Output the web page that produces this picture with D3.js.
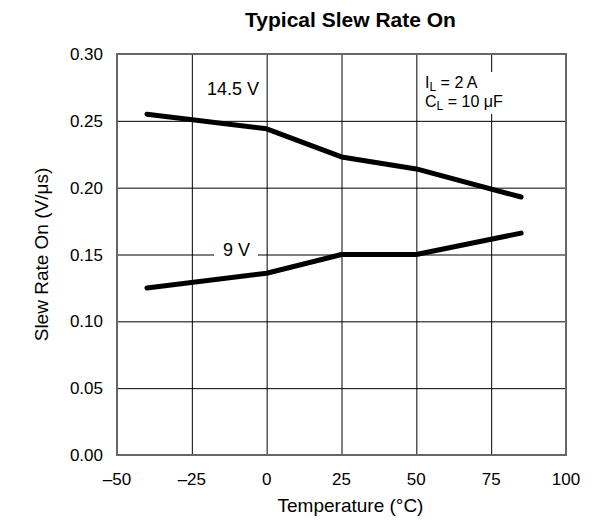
<!DOCTYPE html>
<html>
<head>
<meta charset="utf-8">
<script src="https://cdn.jsdelivr.net/npm/d3@7"></script>
<style>
body { margin: 0; background: #fff; }
text { font-family: "Liberation Sans", Arial, sans-serif; fill: #000; }
</style>
</head>
<body>
<svg id="chart" width="600" height="525"></svg>
<script>
var svg = d3.select('#chart');

var temps = [-40, 0, 25, 50, 85];
var slew145 = [0.255, 0.244, 0.223, 0.214, 0.193];
var slew9   = [0.125, 0.136, 0.150, 0.150, 0.166];
var xTicks = [-50, -25, 0, 25, 50, 75, 100];
var yTicks = [0, 0.05, 0.10, 0.15, 0.20, 0.25, 0.30];

var pL = 117, pR = 566, pT = 54, pB = 455;

var x = d3.scaleLinear().domain([-50, 100]).range([pL, pR]);
var y = d3.scaleLinear().domain([0, 0.30]).range([pB, pT]);

// grid
svg.append("g")
	.attr("transform", "translate(0," + pB + ")")
	.call(d3.axisBottom(x).tickValues(xTicks).tickSize(-(pB - pT)).tickFormat(""))
	.call(function(g){ g.select(".domain").remove(); })
	.selectAll("line").attr("stroke", "#000").attr("stroke-width", 1);

svg.append("g")
	.attr("transform", "translate(" + pL + ",0)")
	.call(d3.axisLeft(y).tickValues(yTicks).tickSize(-(pR - pL)).tickFormat(""))
	.call(function(g){ g.select(".domain").remove(); })
	.selectAll("line").attr("stroke", "#000").attr("stroke-width", 1);

// tick labels
svg.append("g").selectAll("text")
	.data(xTicks)
	.enter()
	.append("text")
	.attr("x", function(d){ return x(d); })
	.attr("y", 485)
	.attr("text-anchor", "middle")
	.attr("font-size", 17)
	.text(function(d){ return d < 0 ? "\u2013" + Math.abs(d) : d; });

svg.append("g").selectAll("text")
	.data(yTicks)
	.enter()
	.append("text")
	.attr("x", 103)
	.attr("y", function(d){ return y(d) + 6; })
	.attr("text-anchor", "end")
	.attr("font-size", 17)
	.text(function(d){ return d.toFixed(2); });

// frame
svg.append("rect")
	.attr("x", pL).attr("y", pT)
	.attr("width", pR - pL).attr("height", pB - pT)
	.attr("fill", "none").attr("stroke", "#666").attr("stroke-width", 2);

// curves
var line = d3.line()
	.x(function(d, i){ return x(temps[i]); })
	.y(function(d){ return y(d); });

[slew145, slew9].forEach(function(s){
	svg.append("path")
		.attr("d", line(s))
		.attr("fill", "none")
		.attr("stroke", "#000")
		.attr("stroke-width", 5)
		.attr("stroke-linecap", "round")
		.attr("stroke-linejoin", "round");
});

// labels
svg.append("text")
	.attr("x", 207).attr("y", 95)
	.attr("font-size", 18)
	.text("14.5 V");

svg.append("rect")
	.attr("x", 214).attr("y", 238).attr("width", 44).attr("height", 24)
	.attr("fill", "#fff");
svg.append("text")
	.attr("x", 223).attr("y", 256)
	.attr("font-size", 18)
	.text("9 V");

svg.append("rect")
	.attr("x", 421).attr("y", 72).attr("width", 80).attr("height", 42)
	.attr("fill", "#fff");
var il = svg.append("text").attr("x", 425).attr("y", 88).attr("font-size", 16);
il.append("tspan").text("I");
il.append("tspan").attr("font-size", 12).attr("dy", 3).text("L");
il.append("tspan").attr("dy", -3).text(" = 2 A");
var cl = svg.append("text").attr("x", 425).attr("y", 107).attr("font-size", 16);
cl.append("tspan").text("C");
cl.append("tspan").attr("font-size", 12).attr("dy", 3).text("L");
cl.append("tspan").attr("dy", -3).text(" = 10 \u03bcF");

// titles
svg.append("text")
	.attr("x", (pL + pR) / 2 + 9).attr("y", 27)
	.attr("text-anchor", "middle")
	.attr("font-size", 21)
	.attr("font-weight", "bold")
	.text("Typical Slew Rate On");

svg.append("text")
	.attr("x", (pL + pR) / 2 + 9).attr("y", 512)
	.attr("text-anchor", "middle")
	.attr("font-size", 19)
	.text("Temperature (\u00b0C)");

svg.append("text")
	.attr("transform", "translate(48," + ((pT + pB) / 2) + ") rotate(-90)")
	.attr("text-anchor", "middle")
	.attr("font-size", 19)
	.text("Slew Rate On (V/\u03bcs)");
</script>
</body>
</html>
